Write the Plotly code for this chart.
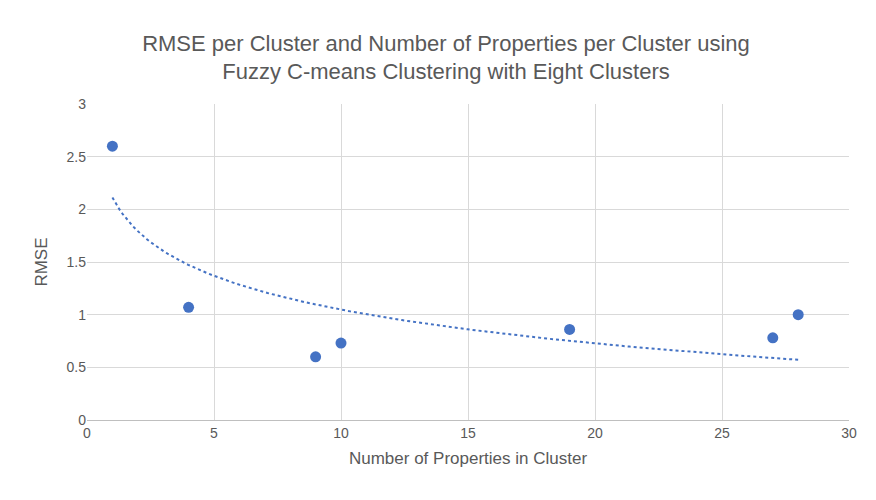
import numpy as np
import plotly.graph_objects as go

# Data
properties = [1, 4, 9, 10, 19, 27, 28]
rmse = [2.6, 1.07, 0.6, 0.73, 0.86, 0.78, 1.0]

# Logarithmic trendline (least squares fit, as in Excel)
b, a = np.polyfit(np.log(properties), rmse, 1)
trend_x = np.linspace(min(properties), max(properties), 200)
trend_y = a + b * np.log(trend_x)

fig = go.Figure()
fig.add_trace(go.Scatter(x=trend_x, y=trend_y, mode='lines',
                         line=dict(color='#4472C4', width=2, dash='dot'),
                         hoverinfo='skip'))
fig.add_trace(go.Scatter(x=properties, y=rmse, mode='markers',
                         marker=dict(color='#4472C4', size=11)))

fig.update_layout(
    width=876, height=500,
    title=dict(text='RMSE per Cluster and Number of Properties per Cluster using<br>Fuzzy C-means Clustering with Eight Clusters',
               x=0.5, xanchor='center', y=0.915, yanchor='middle',
               font=dict(family='Liberation Sans', size=22, color='#595959')),
    font=dict(family='Liberation Sans', size=14, color='#595959'),
    showlegend=False,
    plot_bgcolor='white', paper_bgcolor='white',
    margin=dict(l=79, r=35, t=96, b=88),
)
fig.update_xaxes(range=[0, 30], dtick=5, showgrid=True, gridcolor='#D9D9D9',
                 showline=True, linecolor='#BFBFBF', zeroline=False,
                 automargin=False,
                 title=dict(text='Number of Properties in Cluster', standoff=12))
fig.update_yaxes(range=[0, 3], dtick=0.5, showgrid=True, gridcolor='#D9D9D9',
                 zeroline=False, automargin=False,
                 title=dict(text='RMSE', standoff=14))

fig.write_html("out.html")
